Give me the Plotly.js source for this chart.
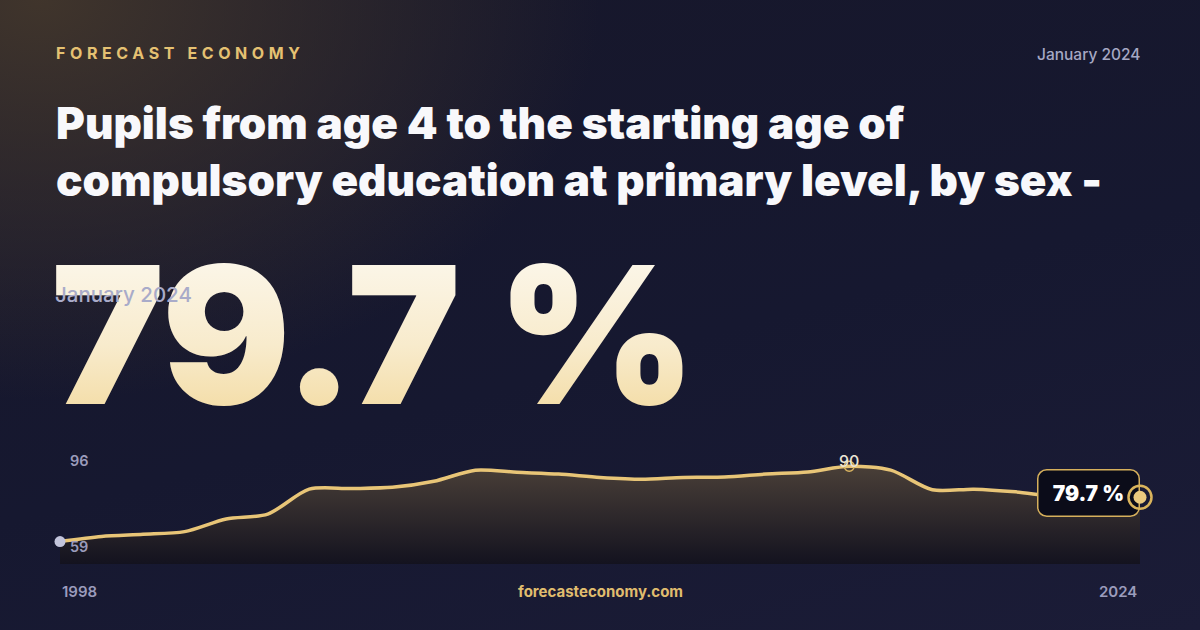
<!DOCTYPE html>
<html lang="en">

<head>
    <meta charset="UTF-8">
    <meta name="viewport" content="width=device-width, initial-scale=1.0">
    <script src="https://cdn.plot.ly/plotly-3.0.1.min.js"></script>
    <title>Pupils from age 4 - forecasteconomy.com</title>
    <style>
        html, body {
            margin: 0;
            padding: 0;
        }
        body {
            width: 1200px;
            height: 630px;
            overflow: hidden;
            background:
                radial-gradient(ellipse 560px 400px at 40px 0px, rgba(74, 60, 44, 0.8), rgba(74, 60, 44, 0) 100%),
                linear-gradient(165deg, #17172a 0%, #161830 55%, #1b1c37 100%);
        }
        #chart {
            width: 1200px;
            height: 630px;
        }
    </style>
</head>

<body>
    <div id="chart"></div>

    <script>
        // yearly values
        var years = [1998, 1999, 2000, 2001, 2002, 2003, 2004, 2005, 2006, 2007, 2008, 2009, 2010,
            2011, 2012, 2013, 2014, 2015, 2016, 2017, 2018, 2019, 2020, 2021, 2022, 2023, 2024];
        var values = [65.0, 66.7, 67.4, 68.3, 72.5, 74.1, 82.4, 82.6, 83.0, 85.0, 88.7, 88.0, 87.4,
            86.3, 85.7, 86.3, 86.4, 87.4, 88.1, 90.0, 88.7, 82.2, 82.4, 81.5, 79.9, 79.8, 79.7];

        var rangeLabels = ['96', '59'];
        var brand = 'FORECAST ECONOMY';
        var period = 'January 2024';
        var site = 'forecasteconomy.com';
        var titleLines = ['Pupils from age 4 to the starting age of',
            'compulsory education at primary level, by sex -'];
        var unit = ' %';

        var gold = '#e8c577';
        var muted = '#9b9cbc';

        var last = values.length - 1;
        var peak = values.indexOf(Math.max.apply(null, values));

        var traces = [{
            x: years,
            y: values,
            type: 'scatter',
            mode: 'lines',
            line: { color: gold, width: 3.5, shape: 'spline', smoothing: 0.8 },
            fill: 'tozeroy',
            fillgradient: {
                type: 'vertical',
                start: 57.5,
                stop: 90,
                colorscale: [[0, 'rgba(19,18,30,0.95)'], [1, 'rgba(76,65,56,0.95)']]
            },
            hoverinfo: 'skip'
        }, {
            // first point
            x: [years[0]],
            y: [values[0]],
            type: 'scatter',
            mode: 'markers',
            marker: { color: '#c3c5dc', size: 11 },
            cliponaxis: false,
            hoverinfo: 'skip'
        }, {
            // peak
            x: [years[peak]],
            y: [values[peak]],
            type: 'scatter',
            mode: 'markers',
            marker: { color: 'rgba(0,0,0,0)', size: 10, line: { color: '#d9b461', width: 1.5 } },
            cliponaxis: false,
            hoverinfo: 'skip'
        }, {
            // last point ring
            x: [years[last]],
            y: [values[last]],
            type: 'scatter',
            mode: 'markers',
            marker: { color: 'rgba(0,0,0,0)', size: 23, line: { color: '#dab45c', width: 2.5 } },
            cliponaxis: false,
            hoverinfo: 'skip'
        }, {
            // last point dot
            x: [years[last]],
            y: [values[last]],
            type: 'scatter',
            mode: 'markers',
            marker: { color: '#ebca7e', size: 13, line: { width: 0 } },
            cliponaxis: false,
            hoverinfo: 'skip'
        }];

        function note(text, x, y, opts) {
            var a = {
                text: text, x: x, y: y, xref: 'paper', yref: 'paper',
                showarrow: false, xanchor: 'left', yanchor: 'middle', align: 'left',
                font: { family: 'Inter, sans-serif', size: 14.5, color: muted, weight: 600 }
            };
            for (var k in opts) a[k] = opts[k];
            return a;
        }

        var annotations = [
            note(brand, -0.0055, 4.405, { font: { family: 'Inter', size: 16, color: '#e5c172', weight: 700 } }),
            note(period, 1.003, 4.395, { xanchor: 'right', align: 'right', font: { family: 'Inter', size: 15.5, color: '#a6a8c4', weight: 500 } }),
            note(titleLines.join('<br>'), -0.0058, 3.56, { font: { family: 'Inter', size: 44, color: '#f8f8fb', weight: 900 } }),
            note(values[last] + unit, -0.0102, 1.978, { font: { family: 'Inter', size: 191, color: '#f6e8c4', weight: 900 } }),
            note(period, -0.0065, 2.319, { font: { family: 'Inter', size: 20.5, color: '#a9abc9', weight: 500 } }),
            note(rangeLabels[0], 0.0075, 0.888),
            note(rangeLabels[1], 0.0075, 0.147),
            note(String(years[0]), 0.0, -0.233, { font: { family: 'Inter', size: 15, color: muted, weight: 600 } }),
            note(String(years[last]), 0.9995, -0.233, { xanchor: 'right', align: 'right', font: { family: 'Inter', size: 15, color: muted, weight: 600 } }),
            note(site, 0.5, -0.233, { xanchor: 'center', align: 'center', font: { family: 'Inter', size: 15, color: '#e0bd6e', weight: 700 } }),
            {
                // peak value
                x: years[peak], y: values[peak], xref: 'x', yref: 'y',
                text: String(Math.round(values[peak])), showarrow: false,
                yanchor: 'bottom', yshift: -7,
                font: { family: 'Inter', size: 16, color: '#ebe4d4', weight: 500 }
            },
            {
                // last value box
                x: years[last], y: values[last], xref: 'x', yref: 'y',
                text: values[last] + unit, showarrow: false,
                xanchor: 'right', yanchor: 'middle', yshift: 4,
                width: 96, height: 41, borderpad: 2,
                bgcolor: '#0b0c19', bordercolor: '#d6b05c', borderwidth: 1.5,
                font: { family: 'Inter', size: 21, color: '#ffffff', weight: 900 }
            }
        ];

        var layout = {
            width: 1200,
            height: 630,
            margin: { l: 60, r: 60, t: 448, b: 66 },
            paper_bgcolor: 'rgba(0,0,0,0)',
            plot_bgcolor: 'rgba(0,0,0,0)',
            showlegend: false,
            xaxis: {
                range: [years[0], years[last]],
                showgrid: false, zeroline: false, showticklabels: false, showline: false, fixedrange: true
            },
            yaxis: {
                range: [57.54, 96.06],
                showgrid: false, zeroline: false, showticklabels: false, showline: false, fixedrange: true
            },
            annotations: annotations
        };

        Plotly.newPlot('chart', traces, layout, { displayModeBar: false, staticPlot: true }).then(function(gd) {
            var ns = 'http://www.w3.org/2000/svg';

            // brand letter spacing
            var brandText = gd.querySelector('.annotation[data-index="0"] .annotation-text');
            if (brandText) brandText.style.letterSpacing = '4.6px';

            // gradient on the big number
            var big = gd.querySelector('.annotation[data-index="3"] .annotation-text');
            if (big) {
                big.style.letterSpacing = '-1px';
                var svg = big.ownerSVGElement;
                var defs = document.createElementNS(ns, 'defs');
                var grad = document.createElementNS(ns, 'linearGradient');
                grad.setAttribute('id', 'bigGrad');
                grad.setAttribute('x1', '0');
                grad.setAttribute('y1', '0');
                grad.setAttribute('x2', '0');
                grad.setAttribute('y2', '1');
                [['0', '#fdfbf6'], ['0.55', '#f8ebcc'], ['1', '#f1d592']].forEach(function(s) {
                    var stop = document.createElementNS(ns, 'stop');
                    stop.setAttribute('offset', s[0]);
                    stop.setAttribute('stop-color', s[1]);
                    grad.appendChild(stop);
                });
                defs.appendChild(grad);
                svg.insertBefore(defs, svg.firstChild);
                big.style.fill = 'url(#bigGrad)';
            }

            // rounded corners on the last value box
            var box = gd.querySelector('.annotation[data-index="11"] rect.bg');
            if (box) {
                box.setAttribute('rx', 9);
                box.setAttribute('ry', 9);
            }

            // end-point ring and dot sit above the value box
            var svgs = gd.querySelectorAll('svg.main-svg');
            var topSvg = svgs[svgs.length - 1];
            var size = gd._fullLayout._size;
            var holder = document.createElementNS(ns, 'g');
            holder.setAttribute('transform', 'translate(' + size.l + ',' + size.t + ')');
            var traceNodes = gd.querySelectorAll('.scatterlayer .trace');
            [3, 4].forEach(function(i) {
                if (traceNodes[i]) holder.appendChild(traceNodes[i]);
            });
            topSvg.appendChild(holder);
        });
    </script>
</body>

</html>
